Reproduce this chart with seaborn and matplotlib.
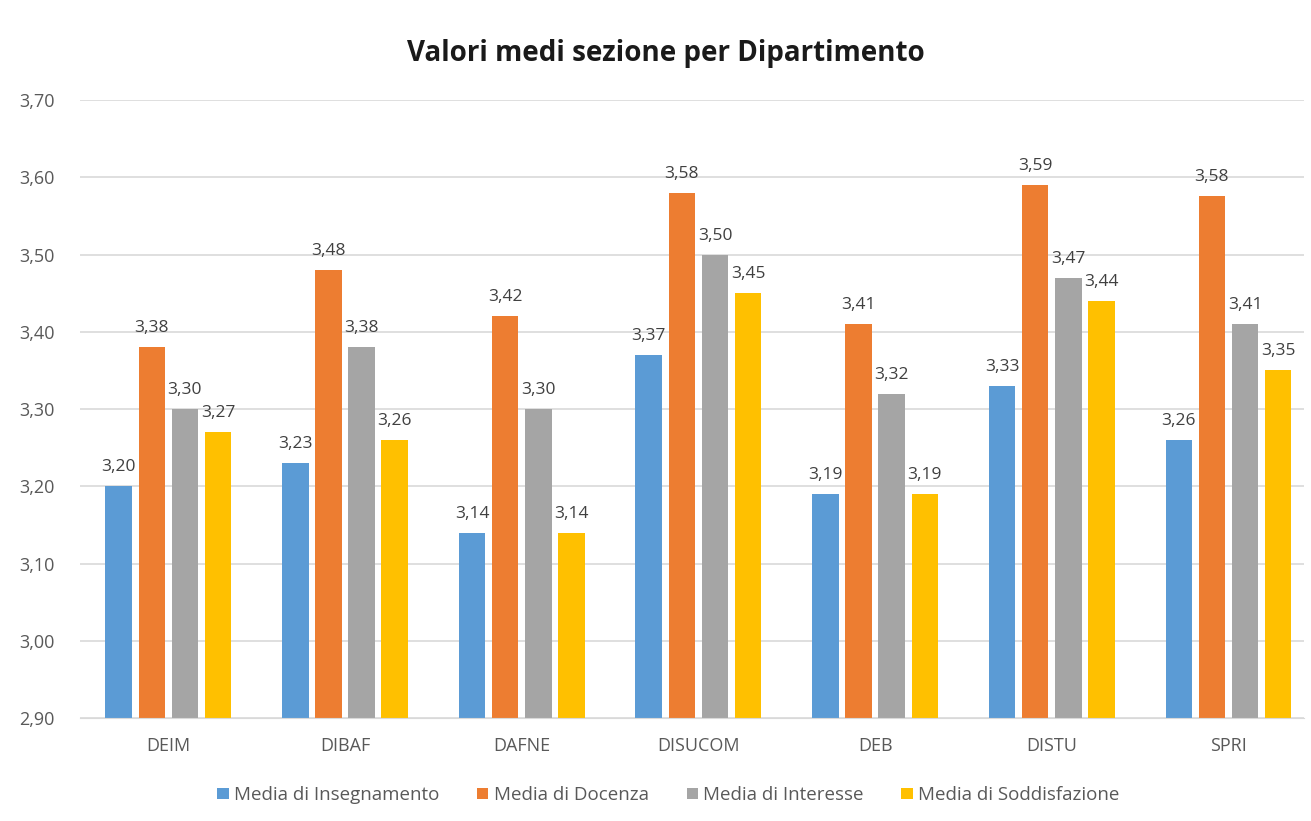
import pandas as pd
import matplotlib.pyplot as plt
import seaborn as sns
from matplotlib.ticker import FuncFormatter

# Dati del grafico
dipartimenti = ["DEIM", "DIBAF", "DAFNE", "DISUCOM", "DEB", "DISTU", "SPRI"]
serie = ["Media di Insegnamento", "Media di Docenza", "Media di Interesse", "Media di Soddisfazione"]
insegnamento = [3.20, 3.23, 3.14, 3.37, 3.19, 3.33, 3.26]
docenza = [3.38, 3.48, 3.42, 3.58, 3.41, 3.59, 3.576]
interesse = [3.30, 3.38, 3.30, 3.50, 3.32, 3.47, 3.41]
soddisfazione = [3.27, 3.26, 3.14, 3.45, 3.19, 3.44, 3.35]
colori = ["#5B9BD5", "#ED7D31", "#A5A5A5", "#FFC000"]

# Tabella in formato lungo per seaborn
df = pd.DataFrame({
    "Dipartimento": dipartimenti * 4,
    "Serie": [s for s in serie for _ in dipartimenti],
    "Valore": insegnamento + docenza + interesse + soddisfazione,
})

sns.set_style("white")
plt.rcParams["font.family"] = ["Open Sans", "DejaVu Sans"]

fig = plt.figure(figsize=(13.11, 8.21), dpi=100)
ax = fig.add_axes([0.061, 0.1255, 0.934, 0.7525])

sns.barplot(data=df, x="Dipartimento", y="Valore", hue="Serie", palette=colori,
            saturation=1, width=0.75, gap=0.2, linewidth=0, ax=ax, legend=True)

ax.set_ylim(2.90, 3.70)
ax.set_xlim(-0.5, 6.43)
ax.set_yticks([2.90, 3.00, 3.10, 3.20, 3.30, 3.40, 3.50, 3.60, 3.70])
ax.yaxis.set_major_formatter(FuncFormatter(lambda v, p: f"{v:.2f}".replace(".", ",")))
ax.grid(axis="y", color="#D9D9D9", linewidth=1.2)
ax.set_axisbelow(True)
for side in ["top", "right", "left"]:
    ax.spines[side].set_visible(False)
ax.spines["bottom"].set_color("#D9D9D9")
ax.tick_params(axis="y", length=0, labelsize=13, labelcolor="#595959", pad=18)
ax.tick_params(axis="x", length=0, labelsize=13, labelcolor="#595959", pad=14)
ax.set_xlabel("")
ax.set_ylabel("")

# Etichette dei valori
for cont in ax.containers:
    ax.bar_label(cont, labels=[f"{v:.2f}".replace(".", ",") for v in cont.datavalues],
                 padding=8, fontsize=12.5, color="#404040")

fig.suptitle("Valori medi sezione per Dipartimento", x=0.508, y=0.953, fontsize=20,
             fontweight="bold", color="#1a1a1a")

handles, labels = ax.get_legend_handles_labels()
ax.get_legend().remove()
fig.legend(handles, labels, loc="lower center", bbox_to_anchor=(0.51, 0.0), ncol=4,
           frameon=False, fontsize=13.5, handlelength=0.6, handleheight=0.6,
           handletextpad=0.3, columnspacing=2.0, labelcolor="#595959")

fig.savefig("out.png", dpi=100, facecolor="white")
